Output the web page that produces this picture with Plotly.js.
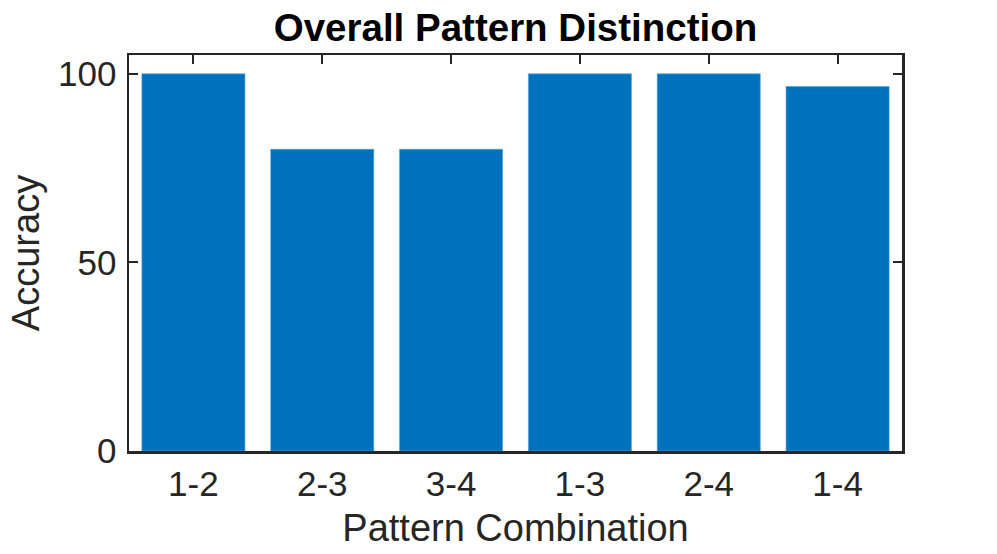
<!DOCTYPE html>
<html>
<head>
<meta charset="utf-8">
<script src="https://cdn.plot.ly/plotly-3.0.1.min.js"></script>
<style>html,body{margin:0;padding:0;background:#fff;}#chart{width:997px;height:554px;}</style>
</head>
<body>
<div id="chart"></div>
<script>
var categories = ["1-2", "2-3", "3-4", "1-3", "2-4", "1-4"];
var accuracy = [100, 80, 80, 100, 100, 96.67];
var yTickValues = [0, 50, 100];

var FONT = "Liberation Sans, Arial, Helvetica, sans-serif";
var AXC = "#262626";

var trace = {
  type: "bar",
  x: categories,
  y: accuracy,
  marker: {color: "#0072BD", line: {color: "#4aa3df", width: 0.6}},
  hoverinfo: "x+y"
};

var layout = {
  width: 997,
  height: 554,
  margin: {l: 129, r: 95, t: 55, b: 103, pad: 0},
  paper_bgcolor: "#ffffff",
  plot_bgcolor: "#ffffff",
  bargap: 0.2,
  showlegend: false,
  title: {
    text: "<b>Overall Pattern Distinction</b>",
    font: {family: FONT, size: 38.5, color: "#000000"},
    x: 0.5, xref: "paper", xanchor: "center",
    y: 30, yref: "container", yanchor: "middle"
  },
  xaxis: {
    type: "category",
    range: [-0.5, 5.5],
    showline: true, linecolor: AXC, linewidth: 2.5, mirror: "ticks",
    ticks: "inside", ticklen: 9, tickwidth: 2, tickcolor: AXC,
    showgrid: false, zeroline: false,
    layer: "below traces",
    tickfont: {family: FONT, size: 35, color: AXC},
    title: {text: "Pattern Combination", font: {family: FONT, size: 38, color: AXC}, standoff: 13}
  },
  yaxis: {
    range: [0, 105],
    tickvals: yTickValues,
    ticktext: yTickValues.map(String),
    showline: true, linecolor: AXC, linewidth: 2.5, mirror: "ticks",
    ticks: "inside", ticklen: 9, tickwidth: 2, tickcolor: AXC,
    showgrid: false, zeroline: false,
    ticklabelstandoff: 3,
    tickfont: {family: FONT, size: 35, color: AXC},
    title: {text: "Accuracy", font: {family: FONT, size: 38, color: AXC}, standoff: 7}
  }
};

Plotly.newPlot("chart", [trace], layout, {displayModeBar: false, staticPlot: true});
</script>
</body>
</html>
